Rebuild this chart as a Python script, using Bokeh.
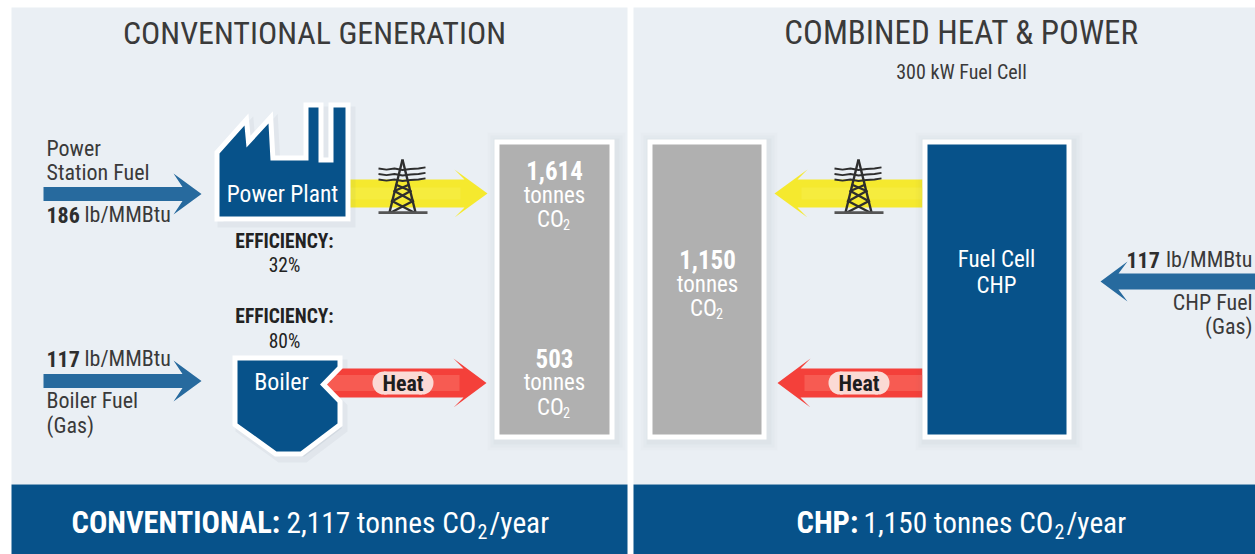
from bokeh.plotting import figure
from bokeh.models import Range1d, InlineStyleSheet
from bokeh.core.properties import value
from bokeh.embed import file_html
from bokeh.resources import INLINE

# ---- content ----
titles = ["CONVENTIONAL GENERATION", "COMBINED HEAT & POWER"]
subtitle = "300 kW Fuel Cell"
power_emission = "1,614"
heat_emission = "503"
chp_emission = "1,150"
power_rate = "186"
gas_rate = "117"
rate_unit = "lb/MMBtu"
efficiency_label = "EFFICIENCY:"
power_efficiency = "32%"
boiler_efficiency = "80%"
conventional_total = "2,117"
chp_total = "1,150"

FONT = "Roboto Condensed"
BLUE = "#07528A"
ARROW_BLUE = "#276A9E"
PANEL = "#EAEFF4"
GRAY = "#B0B0B0"
INK = "#3A3A3A"
W, H = 1255, 554

p = figure(width=W, height=H, x_range=Range1d(0, W), y_range=Range1d(H, 0),
           output_backend="svg", toolbar_location=None, min_border=0,
           outline_line_color=None, background_fill_color="white",
           border_fill_color="white", x_axis_location=None, y_axis_location=None,
           styles={"position": "absolute", "left": "0", "top": "0"},
           stylesheets=[InlineStyleSheet(css="svg text { letter-spacing: -0.03em; }")])
p.grid.visible = False


def rect(x0, x1, y0, y1, color, alpha=1.0):
    p.quad(left=x0, right=x1, top=y0, bottom=y1, fill_color=color,
           fill_alpha=alpha, line_color=None)


def label(x, y, s, size, color=INK, style="normal", align="center"):
    p.text(x=[x], y=[y], text=[s], text_font=value(FONT), text_font_size=f"{size}px",
           text_color=color, text_font_style=style, text_align=align,
           text_baseline="middle")


def shadow(x0, x1, y0, y1):
    for g, a in ((9, .02), (6, .025), (3, .035)):
        rect(x0 - g + 2, x1 + g + 2, y0 - g + 2, y1 + g + 2, "#5A6B7C", a)


def arrow(tail, tip, cy, half_shaft, half_head, head, barb, color):
    """Barbed horizontal arrow; direction follows the sign of tip - tail."""
    d = 1 if tip > tail else -1
    xs = [tail, tip - d * (head - barb), tip - d * head, tip, tip - d * head,
          tip - d * (head - barb), tail]
    ys = [cy - half_shaft, cy - half_shaft, cy - half_head, cy, cy + half_head,
          cy + half_shaft, cy + half_shaft]
    p.patch(xs, ys, fill_color=color, line_color=None)


def band(tail, tip, cy, half, head, color):
    d = 1 if tip > tail else -1
    x0, x1 = sorted((tail, tip - d * (head - 6)))
    rect(x0, x1, cy - half, cy + half, color)


def pill(cx, cy, color="#FBDAD5"):
    rect(cx - 19, cx + 19, cy - 11.5, cy + 11.5, color)
    p.circle(x=[cx - 19, cx + 19], y=[cy, cy], radius=11.5, fill_color=color, line_color=None)
    label(cx, cy + 0.5, "Heat", 22, "#1E1E1E", "bold")


def pylon(cx, base):
    c = "#2E2E2E"
    rel = [
        ([-13, 0], [0, -53]), ([13, 0], [0, -53]),
        ([-9, 9], [-12, -22]), ([9, -9], [-12, -22]),
        ([-11.5, 11.5], [0, -12]), ([11.5, -11.5], [0, -12]),
        ([-7, 7], [-28, -22]), ([7, -7], [-28, -22]),
    ]
    xs = [[cx + v for v in r[0]] for r in rel]
    ys = [[base + v for v in r[1]] for r in rel]
    p.multi_line(xs, ys, line_color=c, line_width=2.4)
    waves = [-44, -38.5, -33]
    wx = [-24, -16, -8, 0, 8, 16, 23]
    wy = [0, 1.2, 0, 1.5, 0.5, 0, -1.2]
    p.multi_line([[cx + v for v in wx] for _ in waves],
                 [[base + w + v for v in wy] for w in waves],
                 line_color=c, line_width=1.8)
    rect(cx - 24, cx + 25, base - 1.2, base + 1.6, "#555555")


def box(x0, x1, y0, y1, color, border=5):
    shadow(x0 - border, x1 + border, y0 - border, y1 + border)
    rect(x0 - border, x1 + border, y0 - border, y1 + border, "white")
    rect(x0, x1, y0, y1, color)


def co2(cx, y, size, color="white"):
    label(cx - 4, y, "CO", size, color)
    label(cx + 12, y + 5, "2", size * 0.62, color)


# ---- panels ----
rect(11, 627, 7, 484, PANEL)
rect(633, W, 7, 484, PANEL)
rect(11, 627, 484, H, BLUE)
rect(633, W, 484, H, BLUE)

label(314, 32, titles[0], 32)
label(961, 32, titles[1], 33)
label(961, 71, subtitle, 20)

# ---- left panel: power route ----
arrow(43, 201, 193.5, 7, 20.5, 28, 9, ARROW_BLUE)
label(46, 148, "Power", 22, align="left")
label(46, 172, "Station Fuel", 22, align="left")
label(46, 214, power_rate, 22, "#2E2E2E", "bold", "left")
label(84, 214, rate_unit, 22, INK, align="left")

arrow(345, 487, 193, 14, 24, 33, 10, "#F5E92E")
band(345, 487, 193, 6, 33, "#F6EC3E")
pylon(402, 212)

fx = [219, 219, 244, 246, 268, 270, 308, 308, 318, 318, 333, 333, 345, 345]
fy = [216, 153, 125, 147, 123, 160, 160, 107, 107, 162, 162, 107, 107, 216]
p.patch([v + 4 for v in fx], [v + 5 for v in fy], fill_color="#5A6B7C", fill_alpha=.10,
        line_color="#5A6B7C", line_alpha=.06, line_width=12, line_join="miter")
p.patch(fx, fy, fill_color="white", line_color="white", line_width=10, line_join="miter")
p.patch(fx, fy, fill_color=BLUE, line_color=None)
label(282, 193, "Power Plant", 23.5, "white")

label(284, 241, efficiency_label, 19.5, "#222222", "bold")
label(284, 265, power_efficiency, 19.5, "#222222")
label(284, 316, efficiency_label, 19.5, "#222222", "bold")
label(284, 341, boiler_efficiency, 19.5, "#222222")

# ---- left panel: boiler route ----
arrow(43, 201, 380.5, 7, 20.5, 28, 9, ARROW_BLUE)
label(46, 358, gas_rate, 22, "#2E2E2E", "bold", "left")
label(84, 358, rate_unit, 22, INK, align="left")
label(46, 400, "Boiler Fuel", 22, align="left")
label(46, 425, "(Gas)", 22, align="left")

bx = [237, 337, 337, 319.5, 337, 337, 300, 276, 237]
by = [360, 360, 366, 384, 402, 423, 451, 451, 423]
p.patch([v + 4 for v in bx], [v + 5 for v in by], fill_color="#5A6B7C", fill_alpha=.10,
        line_color="#5A6B7C", line_alpha=.06, line_width=12, line_join="miter")
arrow(320, 486, 382.5, 14.5, 24.5, 33, 10, "#F4403A")
band(320, 486, 382.5, 8, 33, "#F75B52")
pill(402.5, 382.5)
p.patch(bx, by, fill_color="white", line_color="white", line_width=10, line_join="miter")
p.patch(bx, by, fill_color=BLUE, line_color=None)
label(281, 381, "Boiler", 24, "white")

box(499, 609, 144, 434, GRAY)
label(554, 170, power_emission, 25, "white", "bold")
label(554, 195, "tonnes", 23, "white")
co2(554, 219, 23)
label(554, 358, heat_emission, 25, "white", "bold")
label(554, 382, "tonnes", 23, "white")
co2(554, 407, 23)

# ---- right panel ----
box(652, 761, 144, 434, GRAY)
label(707, 259, chp_emission, 25, "white", "bold")
label(707, 284, "tonnes", 23, "white")
co2(707, 308, 23)

arrow(922, 774, 193, 14, 24, 33, 10, "#F5E92E")
band(922, 774, 193, 6, 33, "#F6EC3E")
pylon(858, 212)

arrow(922, 777, 382.5, 14.5, 24.5, 33, 10, "#F4403A")
band(922, 777, 382.5, 8, 33, "#F75B52")
pill(858.5, 382.5)

box(927, 1066, 144, 434, BLUE)
label(996, 259, "Fuel Cell", 23, "white")
label(996, 285, "CHP", 23, "white")

arrow(W, 1100, 281, 8, 20, 27, 9, ARROW_BLUE)
label(1126, 259, gas_rate, 22, "#2E2E2E", "bold", "left")
label(1252, 259, rate_unit, 22, INK, align="right")
label(1252, 302, "CHP Fuel", 22, align="right")
label(1252, 326, "(Gas)", 22, align="right")

# ---- footers ----
label(71, 522, "CONVENTIONAL:", 30.5, "white", "bold", "left")
label(286, 522, f"{conventional_total} tonnes CO", 29.3, "white", align="left")
label(477, 531, "2", 20, "white", align="left")
label(489, 522, "/year", 29.3, "white", align="left")

label(796, 522, "CHP:", 30.5, "white", "bold", "left")
label(863, 522, f"{chp_total} tonnes CO", 29.3, "white", align="left")
label(1054, 531, "2", 20, "white", align="left")
label(1066, 522, "/year", 29.3, "white", align="left")

open("out.html", "w").write(file_html(p, INLINE))
